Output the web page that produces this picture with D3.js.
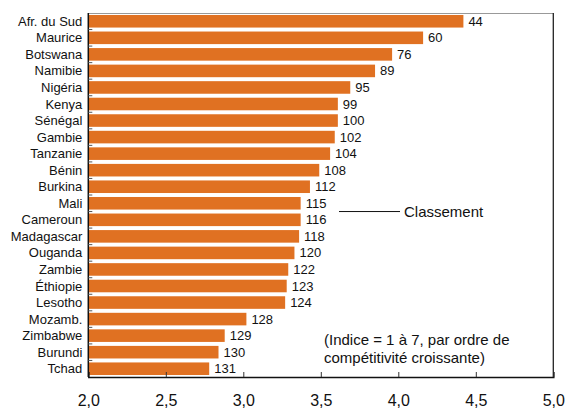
<!DOCTYPE html>
<html><head><meta charset="utf-8">
<script src="https://cdn.jsdelivr.net/npm/d3@7"></script>
<style>body{margin:0;background:#fff}svg{display:block;font-family:Arial,"Liberation Sans",sans-serif}</style>
</head><body><svg id="c" width="568" height="410"></svg>
<script>
const countries = ["Afr. du Sud","Maurice","Botswana","Namibie","Nigéria","Kenya","Sénégal","Gambie","Tanzanie","Bénin","Burkina","Mali","Cameroun","Madagascar","Ouganda","Zambie","Éthiopie","Lesotho","Mozamb.","Zimbabwe","Burundi","Tchad"];
const indexValues = [4.42,4.16,3.96,3.85,3.69,3.61,3.61,3.59,3.56,3.49,3.43,3.37,3.37,3.36,3.33,3.29,3.28,3.27,3.02,2.88,2.84,2.78];
const ranks = [44,60,76,89,95,99,100,102,104,108,112,115,116,118,120,122,123,124,128,129,130,131];
const xTicks = [2.0,2.5,3.0,3.5,4.0,4.5,5.0];
const legendLabel = "Classement";
const noteLines = ["(Indice = 1 à 7, par ordre de","compétitivité croissante)"];

const svg = d3.select("#c");
const L = 88.3, R = 553.3, T = 13, B = 377;
const x = d3.scaleLinear().domain([2,5]).range([L,R]);
const y = d3.scaleBand().domain(countries).range([T,B]).paddingInner(0.24).paddingOuter(0.12);
const color = "#e07122";

// bars
svg.append("g").selectAll("rect").data(countries).join("rect")
  .attr("x", x(2)).attr("y", d=>y(d))
  .attr("width", (d,i)=>x(indexValues[i])-x(2))
  .attr("height", y.bandwidth()).attr("fill", color);

// value labels
svg.append("g").selectAll("text").data(countries).join("text")
  .attr("x",(d,i)=>x(indexValues[i])+5).attr("y", d=>y(d)+y.bandwidth()/2)
  .attr("dy","0.35em").attr("font-size",13).attr("fill","#111")
  .text((d,i)=>ranks[i]);

// frame
svg.append("line").attr("x1",L).attr("x2",R).attr("y1",T+0.5).attr("y2",T+0.5).attr("stroke","#999").attr("stroke-width",1);
svg.append("line").attr("x1",R).attr("x2",R).attr("y1",T).attr("y2",B).attr("stroke","#222").attr("stroke-width",1.3);

// bottom axis
const xa = svg.append("g").attr("transform",`translate(0,${B})`)
  .call(d3.axisBottom(x).tickValues(xTicks).tickSize(-5).tickPadding(0).tickFormat(d=>d3.format(".1f")(d).replace(".",",")));
xa.select(".domain").attr("stroke","#111").attr("stroke-width",1.5);
xa.selectAll(".tick line").attr("stroke","#333");
xa.selectAll(".tick text").attr("font-size",16).attr("font-family",null).attr("fill","#111").attr("dy",null).attr("y",29);

// left axis with boundary ticks
const ya = svg.append("g").attr("transform",`translate(${L},0)`);
ya.append("line").attr("x1",0).attr("x2",0).attr("y1",T).attr("y2",B).attr("stroke","#111").attr("stroke-width",1.5);
const step = (B-T)/countries.length;
ya.selectAll("line.t").data(d3.range(1,countries.length)).join("line").attr("class","t")
  .attr("x1",0).attr("x2",4).attr("y1",i=>T+i*step).attr("y2",i=>T+i*step).attr("stroke","#555");
ya.selectAll("text").data(countries).join("text")
  .attr("x",-6).attr("y",d=>y(d)+y.bandwidth()/2).attr("dy","0.35em")
  .attr("text-anchor","end").attr("font-size",13).attr("fill","#111").text(d=>d);

// legend annotation
const ly = y("Mali")+y.bandwidth()+ (y.step()-y.bandwidth())/2;
svg.append("line").attr("x1",339).attr("x2",400).attr("y1",ly).attr("y2",ly).attr("stroke","#111");
svg.append("text").attr("x",404).attr("y",ly).attr("dy","0.35em").attr("font-size",15).attr("fill","#111").text(legendLabel);

// note
svg.append("g").selectAll("text").data(noteLines).join("text")
  .attr("x",324).attr("y",(d,i)=>339.5+i*18).attr("dy","0.35em").attr("font-size",15).attr("fill","#111").text(d=>d);
</script></body></html>
